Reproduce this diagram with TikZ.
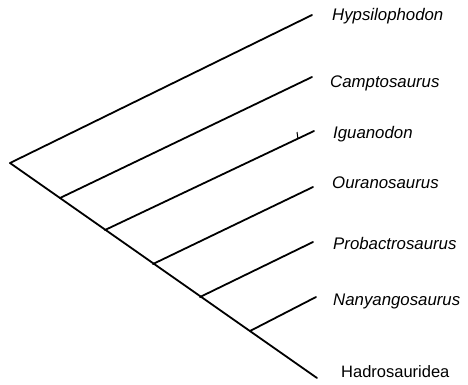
\documentclass[tikz,border=0pt]{standalone}
\usepackage{fontspec}
\setmainfont{Liberation Sans}
\begin{document}
\begin{tikzpicture}[x=1pt,y=-1pt,
  branch/.style={line width=1.8pt, line cap=round},
  taxon/.style={anchor=base west, inner sep=0pt, font=\fontsize{16.8}{18}\selectfont\itshape},
  group/.style={anchor=base west, inner sep=0pt, font=\fontsize{16.5}{18}\selectfont}]
\useasboundingbox (0,0) rectangle (468,384);
% trunk points
\coordinate (root) at (10,163);
\coordinate (n1) at (60,198);
\coordinate (n2) at (105,230);
\coordinate (n3) at (153,264);
\coordinate (n4) at (200,297);
\coordinate (n5) at (250,331);
\coordinate (tH) at (317,378);
% tips
\coordinate (t1) at (312,15);
\coordinate (t2) at (312,77);
\coordinate (t3) at (314,131);
\coordinate (t4) at (313,187);
\coordinate (t5) at (313,242);
\coordinate (t6) at (316,297);
% lines
\draw[branch] (root) -- (tH);
\draw[branch] (root) -- (t1);
\draw[branch] (n1) -- (t2);
\draw[branch] (n2) -- (t3);
\draw[branch] (n3) -- (t4);
\draw[branch] (n4) -- (t5);
\draw[branch] (n5) -- (t6);
% small tick on Iguanodon branch
\coordinate (k1) at (297,132);
\coordinate (k2) at (298,139);
\draw[line width=1pt] (k1) -- (k2);
% labels
\node[taxon] (L1) at (332,20) {Hypsilophodon};
\node[taxon] (L2) at (330,87) {Camptosaurus};
\node[taxon] (L3) at (333,138) {Iguanodon};
\node[taxon] (L4) at (332,188) {Ouranosaurus};
\node[taxon] (L5) at (333,249) {Probactrosaurus};
\node[taxon] (L6) at (333,305) {Nanyangosaurus};
\node[group] (L7) at (341,377) {Hadrosauridea};
\end{tikzpicture}
\end{document}
